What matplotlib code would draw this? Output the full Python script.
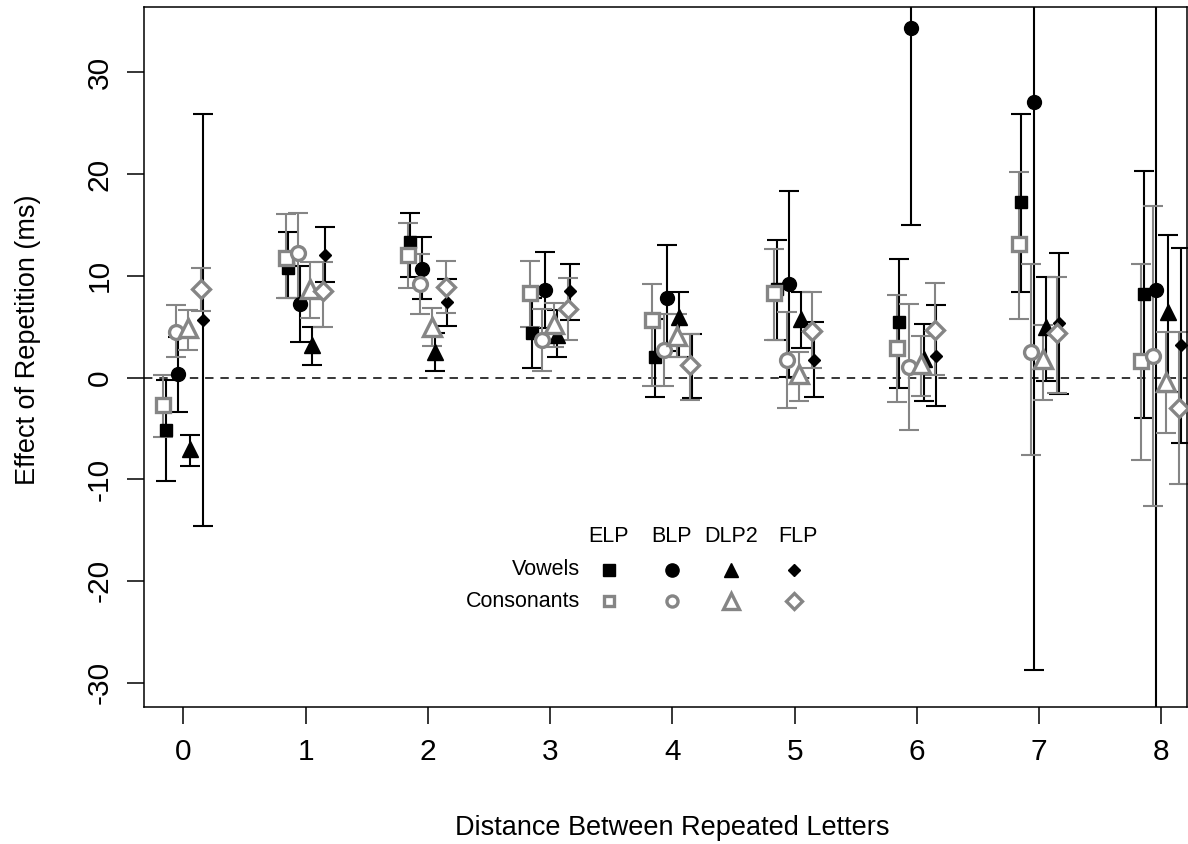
import matplotlib
matplotlib.use("Agg")
import numpy as np
import matplotlib.pyplot as plt

plt.rcParams["font.family"] = ["Liberation Sans", "DejaVu Sans"]
plt.rcParams["axes.unicode_minus"] = False

# distance between repeated letters
distance = np.arange(9)
datasets = ["ELP", "BLP", "DLP2", "FLP"]

# vowels: mean effect, lower, upper (ms)
elp_v = [-5.2, 10.8, 13.3, 4.4, 2.0, 8.7, 5.5, 17.3, 8.2]
elp_v_lo = [-10.2, 7.8, 9.9, 0.9, -1.9, 3.7, -1.0, 8.4, -4.0]
elp_v_hi = [-0.2, 14.3, 16.2, 7.8, 5.8, 13.5, 11.7, 25.9, 20.3]
blp_v = [0.3, 7.2, 10.7, 8.6, 7.8, 9.2, 34.4, 27.1, 8.6]
blp_v_lo = [-3.4, 3.5, 7.7, 4.9, 2.6, 0.1, 15.0, -28.8, -45.0]
blp_v_hi = [4.0, 11.0, 13.8, 12.3, 13.0, 18.3, 53.8, 83.0, 62.0]
dlp_v = [-7.0, 3.2, 2.5, 4.2, 6.0, 5.8, 1.8, 5.0, 6.4]
dlp_v_lo = [-8.7, 1.2, 0.6, 2.0, 2.0, 2.9, -2.3, -0.3, -1.4]
dlp_v_hi = [-5.7, 5.0, 4.4, 6.6, 8.4, 8.4, 5.3, 9.9, 14.0]
flp_v = [5.7, 12.0, 7.4, 8.5, 1.1, 1.7, 2.1, 5.4, 3.2]
flp_v_lo = [-14.6, 9.4, 5.1, 5.7, -2.0, -1.9, -2.8, -1.6, -6.4]
flp_v_hi = [25.9, 14.8, 9.7, 11.2, 4.3, 5.5, 7.1, 12.2, 12.7]

# consonants
elp_c = [-2.7, 11.8, 12.0, 8.3, 5.7, 8.3, 2.9, 13.1, 1.6]
elp_c_lo = [-5.8, 7.8, 8.8, 5.0, -0.8, 3.7, -2.4, 5.8, -8.1]
elp_c_hi = [0.2, 16.1, 15.2, 11.5, 9.2, 12.6, 8.1, 20.2, 11.2]
blp_c = [4.5, 12.2, 9.2, 3.7, 2.7, 1.7, 1.0, 2.5, 2.1]
blp_c_lo = [2.0, 7.8, 6.2, 0.6, -0.8, -3.0, -5.2, -7.6, -12.6]
blp_c_hi = [7.1, 16.2, 12.1, 6.7, 6.2, 6.4, 7.2, 11.2, 16.9]
dlp_c = [4.9, 8.75, 5.0, 5.3, 4.1, 0.3, 1.3, 1.8, -0.4]
dlp_c_lo = [2.7, 5.9, 3.1, 3.0, 2.0, -2.3, -1.8, -2.2, -5.5]
dlp_c_hi = [6.6, 11.4, 6.8, 7.3, 6.2, 2.5, 4.1, 5.2, 4.5]
flp_c = [8.7, 8.5, 8.9, 6.7, 1.2, 4.6, 4.7, 4.4, -3.0]
flp_c_lo = [6.5, 5.0, 6.3, 3.7, -2.2, 0.9, 0.2, -1.5, -10.5]
flp_c_hi = [10.8, 11.4, 11.5, 9.8, 4.3, 8.4, 9.3, 9.9, 4.5]

vowels = [(elp_v, elp_v_lo, elp_v_hi), (blp_v, blp_v_lo, blp_v_hi),
          (dlp_v, dlp_v_lo, dlp_v_hi), (flp_v, flp_v_lo, flp_v_hi)]
consonants = [(elp_c, elp_c_lo, elp_c_hi), (blp_c, blp_c_lo, blp_c_hi),
              (dlp_c, dlp_c_lo, dlp_c_hi), (flp_c, flp_c_lo, flp_c_hi)]

GREY = "#858585"
v_off = [-0.145, -0.045, 0.055, 0.16]
c_off = [-0.165, -0.065, 0.035, 0.145]
markers = ["s", "o", "^", "D"]
v_size = [9.0, 10.0, 11.0, 6.5]
c_size = [9.5, 10.0, 12.5, 9.5]

fig = plt.figure(figsize=(11.88, 8.44), dpi=100)
ax = fig.add_axes([0.1215, 0.1623, 0.8777, 0.8290])

ax.axhline(0, color="black", lw=1.1, dashes=(5.5, 4.5), zorder=1)


def draw(series, offs, sizes, color, filled):
    for (m, lo, hi), off, mk, ms in zip(series, offs, markers, sizes):
        m = np.array(m)
        yerr = [m - np.array(lo), np.array(hi) - m]
        ax.errorbar(distance + off, m, yerr=yerr, fmt="none", ecolor=color,
                    elinewidth=1.5, capsize=7, capthick=1.5, zorder=2)
        ax.plot(distance + off, m, ls="none", marker=mk, ms=ms,
                mfc=color if filled else "white", mec=color,
                mew=1.0 if filled else 2.4, zorder=3)


draw(vowels, v_off, v_size, "black", True)
draw(consonants, c_off, c_size, GREY, False)

ax.set_xlim(-0.32, 8.21)
ax.set_ylim(-32.4, 36.4)
ax.set_xticks(distance)
ax.set_yticks([-30, -20, -10, 0, 10, 20, 30])
ax.tick_params(axis="both", length=12, width=1.1, labelsize=21.5, pad=10)
for lab in ax.get_yticklabels():
    lab.set_rotation(90)
    lab.set_va("center")
for s in ax.spines.values():
    s.set_linewidth(1.1)

fig.text(672 / 1188, 1 - 828 / 844, "Distance Between Repeated Letters",
         ha="center", va="center", fontsize=19.5)
fig.text(28 / 1188, 1 - 340 / 844, "Effect of Repetition (ms)",
         ha="center", va="center", rotation=90, fontsize=19.5)

# legend block
col_x = [0.4455, 0.5059, 0.5625, 0.6230]
head_y, vow_y, con_y = 0.244, 0.196, 0.151
for x, name in zip(col_x, datasets):
    ax.text(x + (0.004 if name == "FLP" else 0), head_y, name,
            transform=ax.transAxes, ha="center", va="center", fontsize=15.5)
ax.text(0.418, vow_y, "Vowels", transform=ax.transAxes, ha="right",
        va="center", fontsize=15.5)
ax.text(0.418, con_y, "Consonants", transform=ax.transAxes, ha="right",
        va="center", fontsize=15.5)
leg_v = [8.5, 9.5, 10.5, 6.5]
leg_c = [7.5, 8, 11, 8.5]
for x, mk, s1, s2 in zip(col_x, markers, leg_v, leg_c):
    ax.plot([x], [vow_y], transform=ax.transAxes, marker=mk, ms=s1,
            color="black", ls="none", clip_on=False)
    ax.plot([x], [con_y], transform=ax.transAxes, marker=mk, ms=s2,
            mfc="white", mec=GREY, mew=2.4, ls="none", clip_on=False)

fig.savefig("out.png", dpi=100)
